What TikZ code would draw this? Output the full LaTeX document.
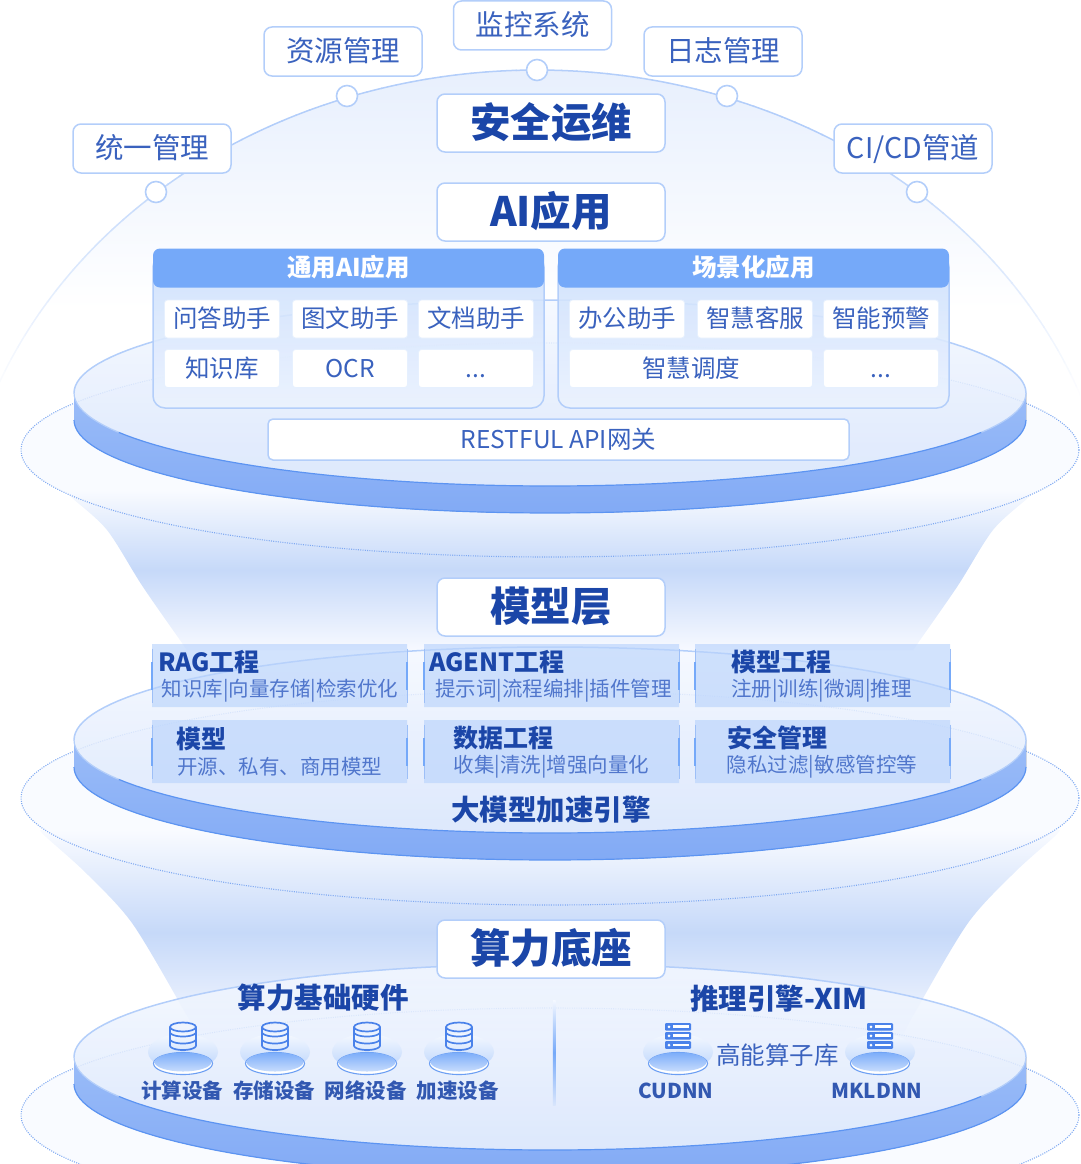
\documentclass[tikz,border=0pt]{standalone}
\usepackage{fontspec}
\setmainfont{Noto Sans CJK SC}
\usetikzlibrary{shapes.misc}
\definecolor{inkA}{HTML}{1B46A8}
\definecolor{inkB}{HTML}{3A62BE}
\definecolor{inkC}{HTML}{5076CC}
\definecolor{edgeA}{HTML}{B3CEFA}
\definecolor{edgeB}{HTML}{5C94F2}
\definecolor{headC}{HTML}{75A9F9}
\definecolor{ringC}{HTML}{F9FBFF}
\definecolor{dotC}{HTML}{7FA9F2}
\definecolor{iconC}{HTML}{4A82EA}
\definecolor{HTMLbandA}{HTML}{9ABCF8}
\definecolor{HTMLbandB}{HTML}{82AAF5}
\definecolor{HTMLsurfA}{HTML}{F4F8FF}
\definecolor{HTMLsurfB}{HTML}{D8E5FC}
\definecolor{HTMLfunA}{HTML}{C6D9F9}
\definecolor{HTMLfunC}{HTML}{F7F9FF}
\newcommand{\fs}[1]{\fontsize{#1}{#1}\selectfont}
\tikzset{
  txt/.code={\pgfmathsetmacro{\myH}{.84*#1}\pgfmathsetmacro{\myD}{.12*#1}%
    \tikzset{inner sep=0pt,align=center,text height=\myH pt,text depth=\myD pt,font=\fs{#1}}},
  tagbox/.style={txt=28.5,draw=edgeA,line width=1.5pt,rounded corners=8pt,fill=white,text=inkB,minimum width=158pt,minimum height=49pt},
  titlebox/.style={txt=40.5,draw=edgeA,line width=1.5pt,rounded corners=8pt,fill=white,text=inkA,minimum width=228pt,minimum height=58pt,font=\fs{40.5}\bfseries},
  pin/.style={circle,draw=edgeA,line width=1.6pt,fill=white,minimum size=21pt,inner sep=0pt},
  panel/.style={draw=edgeA,line width=1.5pt,rounded corners=12pt,top color=headC!38!white,bottom color=headC!14!white,fill opacity=.88},
  header/.style={txt=24.5,fill=headC,rounded corners=7pt,text=white,minimum width=391pt,minimum height=39pt,font=\fs{24.5}\bfseries},
  cell/.style={txt=24.5,draw=headC!18!white,line width=.8pt,rounded corners=3pt,fill=white,text=inkB,minimum height=38pt},
  apibox/.style={txt=24.5,draw=edgeA,line width=1.5pt,rounded corners=5pt,fill=white,text=inkB,minimum width=581pt,minimum height=41pt},
  card/.style={chamfered rectangle,chamfered rectangle xsep=4pt,chamfered rectangle ysep=4pt,fill=headC!50!white,fill opacity=.66,minimum width=255pt,minimum height=63pt,inner sep=0pt},
  cardt/.style={txt=25,text=inkA,font=\fs{25}\bfseries},
  cards/.style={txt=20.5,text=inkC},
  head2/.style={txt=28.5,text=inkA,font=\fs{28.5}\bfseries},
  lab/.style={txt=20.5,text=inkA!90!white,font=\fs{20.5}\bfseries},
  ringline/.style={draw=dotC,line width=1.1pt,dash pattern=on 1pt off 1.3pt}
}
\newcommand{\disk}[1]{%
  \fill[top color=HTMLbandA,bottom color=HTMLbandB]
    plot[domain=180:360,samples=80,variable=\t] ({550+476*cos(\t)},{#1-93*sin(\t)})
    -- plot[domain=360:180,samples=80,variable=\t] ({550+476*cos(\t)},{#1+27-93*sin(\t)}) -- cycle;
  \draw[edgeB,line width=1.2pt] plot[domain=180:360,samples=80,variable=\t] ({550+476*cos(\t)},{#1+27-93*sin(\t)});
  \shade[top color=HTMLsurfA,bottom color=HTMLsurfB,fill opacity=.84] (550,#1) ellipse [x radius=476,y radius=93];
  \draw[edgeA,line width=1.5pt] plot[domain=0:180,samples=80,variable=\t] ({550+476*cos(\t)},{#1-93*sin(\t)});
  \draw[edgeB,line width=1.2pt] plot[domain=205:335,samples=60,variable=\t] ({550+476*cos(\t)},{#1-93*sin(\t)});
  \draw[edgeA,line width=1.2pt] plot[domain=180:205,samples=12,variable=\t] ({550+476*cos(\t)},{#1-93*sin(\t)});
  \draw[edgeA,line width=1.2pt] plot[domain=335:360,samples=12,variable=\t] ({550+476*cos(\t)},{#1-93*sin(\t)});
}
\newcommand{\pedestal}[1]{%
  \shade[top color=headC!8!white,bottom color=headC!50!white] (#1,1052) ellipse [x radius=35,y radius=18];
  \draw[fill=white,draw=edgeB!90!white,line width=1.1pt] (#1,1063.5) ellipse [x radius=29.5,y radius=11];
  \shade[top color=headC!95!white,bottom color=headC!40!white] (#1,1062) ellipse [x radius=28.5,y radius=9.5];
}
\newcommand{\dbicon}[1]{%
  \begin{scope}[draw=iconC,line width=1.7pt]
    \draw (#1,1027) ellipse [x radius=13,y radius=4.5];
    \draw (#1-13,1027) -- (#1-13,1045.5) (#1+13,1027) -- (#1+13,1045.5);
    \draw plot[domain=180:360,samples=24,variable=\t] ({#1+13*cos(\t)},{1032-4.5*sin(\t)});
    \draw plot[domain=180:360,samples=24,variable=\t] ({#1+13*cos(\t)},{1039-4.5*sin(\t)});
    \draw plot[domain=180:360,samples=24,variable=\t] ({#1+13*cos(\t)},{1045.5-4.5*sin(\t)});
  \end{scope}
}
\newcommand{\srvrow}[2]{%
  \fill[iconC,rounded corners=1pt] (#1-13,#2) rectangle (#1+13,#2+7.6);
  \fill[white] (#1-5,#2+2.4) rectangle (#1+11,#2+5.2);
  \fill[white] (#1-9,#2+3.8) circle [radius=1.5];
}
\newcommand{\srvicon}[1]{\srvrow{#1}{1023}\srvrow{#1}{1032}\srvrow{#1}{1041.2}}
\begin{document}
\begin{tikzpicture}[x=1pt,y=-1pt]
\useasboundingbox (0,0) rectangle (1080,1164);
\clip (0,0) rectangle (1080,1164);
% dome
\begin{scope}
  \clip (537,570) ellipse [x radius=580,y radius=500];
  \shade[top color=HTMLsurfB!60!white,bottom color=white] (0,70) rectangle (1080,310);
\end{scope}
\foreach \a in {20,21.5,...,159} {
  \pgfmathsetmacro{\pct}{min(100,max(0,100-(abs(\a+.75-90)-32)*2.6))}
  \draw[edgeA!\pct!white,line width=1.5pt] plot[domain=\a:\a+1.6,samples=3,variable=\t] ({537+580*cos(\t)},{570-500*sin(\t)});
}
% dotted rings: fill
\fill[ringC] (550,450) ellipse [x radius=529,y radius=107];
\fill[ringC] (550,798) ellipse [x radius=529,y radius=107];
\fill[ringC] (550,1115) ellipse [x radius=529,y radius=107];
% funnels
\shade[top color=ringC,bottom color=HTMLfunC,middle color=HTMLfunA]
  plot[smooth] coordinates {(66,490) (71,497) (107,530) (143,587) (187,650)}
  -- plot[smooth] coordinates {(913,650) (957,587) (993,530) (1029,497) (1034,490)} -- cycle;
\shade[top color=ringC,bottom color=HTMLfunC,middle color=HTMLfunA]
  plot[smooth] coordinates {(40,830) (46,837) (86,873) (132,923) (182,1007) (197,1035)}
  -- plot[smooth] coordinates {(903,1035) (918,1007) (968,923) (1014,873) (1054,837) (1060,830)} -- cycle;
% dotted rings: line
\draw[ringline] (550,450) ellipse [x radius=529,y radius=107];
\draw[ringline] (550,798) ellipse [x radius=529,y radius=107];
\draw[ringline] (550,1115) ellipse [x radius=529,y radius=107];
% disks
\disk{393}
\disk{740}
\disk{1057}
% top tags and pins
\node[pin] (p1) at (156,192) {};
\node[pin] (p2) at (347,96) {};
\node[pin] (p3) at (537,70) {};
\node[pin] (p4) at (727,96) {};
\node[pin] (p5) at (917,192) {};
\node[tagbox] (g1) at (152,148.5) {统一管理};
\node[tagbox] (g2) at (343,51.5) {资源管理};
\node[tagbox] (g3) at (532.5,25.5) {监控系统};
\node[tagbox] (g4) at (723,51.5) {日志管理};
\node[tagbox] (g5) at (913,148.5) {CI/CD管道};
\node[titlebox] (t1) at (551,123) {安全运维};
\node[titlebox] (t2) at (551,212) {AI应用};
% application panels
\path[panel] (153,255) rectangle (544,408);
\path[panel] (558,255) rectangle (949,408);
\node[header] (h1) at (348.5,268) {通用AI应用};
\node[header] (h2) at (753.5,268) {场景化应用};
\node[cell,minimum width=115pt] (c11) at (222,319) {问答助手};
\node[cell,minimum width=115pt] (c12) at (350,319) {图文助手};
\node[cell,minimum width=115pt] (c13) at (476,319) {文档助手};
\node[cell,minimum width=115pt] (c14) at (222,368.5) {知识库};
\node[cell,minimum width=115pt] (c15) at (350,368.5) {OCR};
\node[cell,minimum width=115pt] (c16) at (476,368.5) {...};
\node[cell,minimum width=115pt] (c21) at (627,319) {办公助手};
\node[cell,minimum width=115pt] (c22) at (755,319) {智慧客服};
\node[cell,minimum width=115pt] (c23) at (881,319) {智能预警};
\node[cell,minimum width=243pt] (c24) at (691,368.5) {智慧调度};
\node[cell,minimum width=115pt] (c25) at (881,368.5) {...};
\node[apibox] (api) at (558.5,439.5) {RESTFUL API网关};
% model layer
\node[titlebox] (t3) at (551,607) {模型层};
\foreach \n/\cx/\cy in {k1/279.5/675.5,k2/551.5/675.5,k3/822.5/675.5,k4/279.5/751.5,k5/551.5/751.5,k6/822.5/751.5} {
  \node[card] (\n) at (\cx,\cy) {};
  \draw[edgeB!60!white,line width=.9pt] (\cx-127.5,\cy-27) -- (\cx-127.5,\cy+27) (\cx+127.5,\cy-27) -- (\cx+127.5,\cy+27);
  \draw[headC,line width=1.8pt] (\cx-127.5,\cy-14) -- (\cx-127.5,\cy+14) (\cx+127.5,\cy-14) -- (\cx+127.5,\cy+14);
}
\node[cardt] (a1) at (209,662) {RAG工程};
\node[cards] (b1) at (280,689) {知识库|向量存储|检索优化};
\node[cardt] (a2) at (497,662) {AGENT工程};
\node[cards] (b2) at (553.5,689) {提示词|流程编排|插件管理};
\node[cardt] (a3) at (781,662) {模型工程};
\node[cards] (b3) at (821.5,689) {注册|训练|微调|推理};
\node[cardt] (a4) at (201.5,739) {模型};
\node[cards] (b4) at (279.5,767) {开源、私有、商用模型};
\node[cardt] (a5) at (503,738) {数据工程};
\node[cards] (b5) at (551.5,765) {收集|清洗|增强向量化};
\node[cardt] (a6) at (777,738) {安全管理};
\node[cards] (b6) at (822,765) {隐私过滤|敏感管控等};
\node[head2] (acc) at (551,810) {大模型加速引擎};
% compute layer
\node[titlebox] (t4) at (551,949) {算力底座};
\node[head2] (hw) at (323,998) {算力基础硬件};
\node[head2] (inf) at (779,999) {推理引擎-XIM};
\shade[top color=HTMLsurfA,bottom color=HTMLsurfB,middle color=headC] (552.8,1000) rectangle (555.6,1105);
\foreach \x in {183,275,367,459} {\pedestal{\x}\dbicon{\x}}
\foreach \x in {678,880} {\pedestal{\x}\srvicon{\x}}
\node[lab] (l1) at (182,1091.5) {计算设备};
\node[lab] (l2) at (274,1091.5) {存储设备};
\node[lab] (l3) at (365.5,1091.5) {网络设备};
\node[lab] (l4) at (457.5,1091.5) {加速设备};
\node[lab] (l5) at (676,1091.5) {CUDNN};
\node[lab] (l6) at (877,1091.5) {MKLDNN};
\node[txt=24.5,text=inkB] (lib) at (777.5,1056) {高能算子库};
\end{tikzpicture}
\end{document}
